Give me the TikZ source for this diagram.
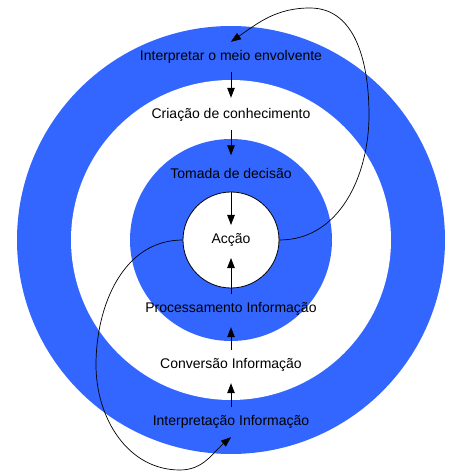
\documentclass[tikz,border=0pt]{standalone}
\usepackage{fontspec}
\setmainfont{Liberation Sans}
\usepackage{xcolor}
\usetikzlibrary{arrows.meta}
\definecolor{ringblue}{RGB}{51,102,255}

\begin{document}
\begin{tikzpicture}[
        x=1pt, y=1pt,
        every node/.style={font=\fontsize{14}{16}\selectfont},
        ringtext/.style={inner sep=0pt, minimum height=30pt},
        arrow/.style={-{Triangle[length=10pt, width=7.5pt]}, line width=0.9pt},
        feedback/.style={-{Triangle[length=10pt, width=7.5pt]}, line width=0.7pt}
    ]
    \useasboundingbox (-231,-234) rectangle (217,240);
    % Rings
    \fill[ringblue] (0,0) circle (214);
    \fill[white] (0,0) circle (160);
    \fill[ringblue] (0,0) circle (101);

    % Nodes
    \node[draw, circle, fill=white, minimum size=96pt, inner sep=0pt, line width=0.8pt] (accao) at (0,0) {Acção};
    \node[ringtext] (meio) at (0,183) {Interpretar o meio envolvente};
    \node[ringtext] (criacao) at (0,125) {Criação de conhecimento};
    \node[ringtext] (tomada) at (0,67) {Tomada de decisão};
    \node[ringtext] (processamento) at (0,-69) {Processamento Informação};
    \node[ringtext] (conversao) at (0,-125) {Conversão Informação};
    \node[ringtext] (interpretacao) at (0,-182) {Interpretação Informação};

    % Arrows
    \draw[arrow, shorten >=2pt] (meio) -- (criacao);
    \draw[arrow, shorten >=2.5pt] (criacao) -- (tomada);
    \draw[arrow, shorten <=4pt, shorten >=15pt] (tomada) -- (accao.center);
    \draw[arrow, shorten >=18pt] (processamento) -- (accao.center);
    \draw[arrow, shorten >=3pt] (conversao) -- (processamento);
    \draw[arrow, shorten >=3pt] (interpretacao) -- (conversao);

    % Feedback loops
    \draw[feedback] (accao.east) to[out=0, in=-90] (138,125)
        to[out=90, in=0] (79,232) to[out=180, in=35] (meio.north);
    \draw[feedback] (accao.west) to[out=180, in=90] (-135,-125)
        to[out=-90, in=180] (-51,-230) to[out=0, in=-140] (interpretacao.south);
\end{tikzpicture}
\end{document}
